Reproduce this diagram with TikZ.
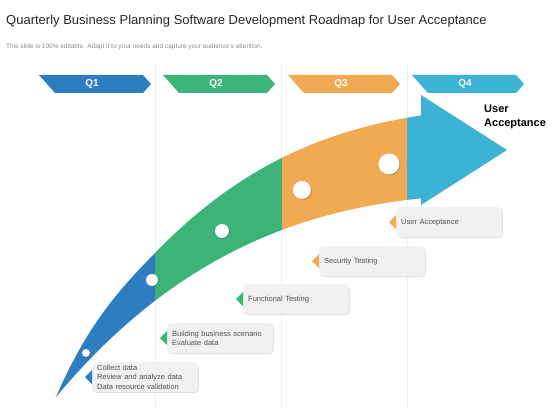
\documentclass[tikz,border=0pt]{standalone}
\usepackage{fontspec}
\setmainfont{Liberation Sans}
\usetikzlibrary{shadows}
\definecolor{q1c}{RGB}{46,125,192}
\definecolor{q2c}{RGB}{60,180,120}
\definecolor{q3c}{RGB}{241,170,82}
\definecolor{q4c}{RGB}{60,178,212}
\definecolor{boxc}{RGB}{241,241,241}
\definecolor{txtc}{RGB}{80,80,80}
\begin{document}
\begin{tikzpicture}[x=1pt,y=-1pt,
  vline/.style={draw=black!6,line width=0.6pt},
  tablbl/.style={text=white,font=\bfseries\fontsize{10}{11}\selectfont,inner sep=0pt},
  dotc/.style={circle,fill=white,inner sep=0pt,drop shadow={shadow xshift=0.8pt,shadow yshift=-0.8pt,opacity=0.25,fill=black}},
  tbox/.style={fill=boxc,rounded corners=4pt,text width=96pt,inner xsep=5pt,inner ysep=2pt,minimum height=30pt,align=left,text=txtc,font=\fontsize{7.5}{9.5}\selectfont,anchor=north west,drop shadow={shadow xshift=0.6pt,shadow yshift=-0.8pt,opacity=0.12,fill=black}}]
\useasboundingbox (0,0) rectangle (560,420);
\fill[white] (0,0) rectangle (560,420);
% title
\node[anchor=west,inner sep=0pt,text=black!85,font=\fontsize{13}{15}\selectfont] (title) at (6,21) {Quarterly Business Planning Software Development Roadmap for User Acceptance};
\node[anchor=west,inner sep=0pt,text=black!45,font=\fontsize{6.5}{8}\selectfont] (sub) at (6,47) {This slide is 100\% editable. Adapt it to your needs and capture your audience's attention.};
% vertical guide lines
\foreach \vx in {155,281,407}{\draw[vline] (\vx,62) -- (\vx,410);}
% quarter tabs
\foreach \i/\tx/\col in {1/39/q1c,2/163/q2c,3/288/q3c,4/412/q4c}{
  \fill[\col] (\tx,75) -- ++(104,0) -- ++(8,9) -- ++(-8,9) -- ++(-88,0) -- cycle;
  \node[tablbl] (q\i) at (\tx+53,84) {Q\i};
}
% curved band
\foreach \xa/\xb/\col in {0/155/q1c,155/282/q2c,282/407/q3c,407/560/q4c}{
  \begin{scope}
  \clip (\xa,0) rectangle (\xb,420);
  \fill[\col] (56,397) .. controls (89,321) and (122,287) .. (155,253)
    .. controls (245,160) and (334,128.5) .. (424,115) -- (424,198)
    .. controls (304,210) and (176,253) .. (56,397) -- cycle;
  \end{scope}
}
% arrow head
\fill[q4c] (421,95) -- (507,150) -- (421,205) -- cycle;
\node[anchor=north west,inner sep=0pt,align=left,font=\bfseries\fontsize{11}{14}\selectfont] (ualbl) at (484,105) {User\\Acceptance};
% dots
\node[dotc,minimum size=8pt] (d1) at (86,353) {};
\node[dotc,minimum size=12pt] (d2) at (152,280) {};
\node[dotc,minimum size=14pt] (d3) at (222,231) {};
\node[dotc,minimum size=18pt] (d4) at (302,190) {};
\node[dotc,minimum size=21pt] (d5) at (389,164) {};
% text boxes
\node[tbox] (b1) at (92,362) {Collect data\\Review and analyze data\\Data resource validation};
\node[tbox] (b2) at (167,323) {Building business scenario\\Evaluate data};
\node[tbox] (b3) at (243,284) {Functional Testing};
\node[tbox] (b4) at (319,246) {Security Testing};
\node[tbox] (b5) at (396,207) {User Acceptance};
\foreach \b/\col in {b1/q1c,b2/q2c,b3/q2c,b4/q3c,b5/q3c}{
  \fill[\col] ([yshift=7pt]\b.west) -- ([xshift=-7pt]\b.west) -- ([yshift=-7pt]\b.west) -- cycle;
}
\end{tikzpicture}
\end{document}
